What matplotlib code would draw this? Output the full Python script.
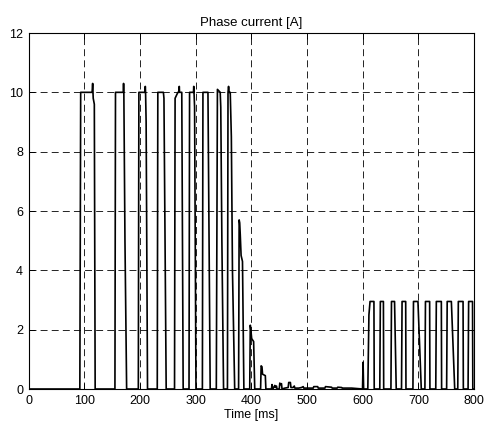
import matplotlib
matplotlib.use("Agg")
import matplotlib.pyplot as plt

plt.rcParams['font.family'] = ['Liberation Sans', 'DejaVu Sans']
plt.rcParams['lines.scale_dashes'] = False

# waveform: time [ms] and phase current [A]
time_ms = [
    0, 92, 93.5, 114, 115, 116, 118, 119.5,
    155, 156, 170, 170.5, 171, 173, 176,
    197, 198, 209, 209.5, 210, 211, 213.5,
    231, 232, 242, 243, 245, 247,
    262, 263, 268, 270, 270.5, 271, 275, 277.5,
    288, 289, 296, 296.5, 297, 298, 300.5,
    312, 313, 322, 324, 326,
    337, 339, 344, 345, 347, 350,
    357, 358, 359, 360, 362, 364, 366, 370,
    377, 378, 379, 380, 381.5, 384, 386.5,
    397, 398, 399, 400.5, 404, 406,
    416.5, 417.5, 419, 420, 425, 426,
    436, 437, 438, 440, 442, 443, 445, 446, 450, 451, 452, 454, 455,
    460, 466, 467, 470, 471, 475, 477, 478, 485, 490, 493, 494, 500,
    511, 512, 519, 520, 532, 533, 544, 545, 554, 555, 562, 563, 580,
    599.5, 600.5, 601.5,
    609, 611, 613, 620, 620.5,
    630.5, 631.5, 637, 637.5,
    650.5, 651.5, 657, 660,
    669.5, 670.5, 677, 677.5,
    690, 691, 699, 705,
    711.5, 712.5, 720, 720.5,
    731, 732, 741, 741.5,
    750.5, 751.5, 759, 765,
    770.5, 771.5, 780, 780.5,
    789, 790, 797, 797.5, 800,
]
current_a = [
    0, 0, 10, 10, 10.3, 9.8, 9.6, 0,
    0, 10, 10, 10.3, 10, 5, 0,
    0, 10, 10, 10.2, 10, 9, 0,
    0, 10, 10, 9.8, 5, 0,
    0, 9.8, 10, 10, 10.2, 10, 10, 0,
    0, 10, 10, 10.2, 10, 9.5, 0,
    0, 10, 10, 5, 0,
    0, 10.1, 10, 9.5, 5, 0,
    0, 10, 10.2, 10, 10, 8.5, 4, 0,
    0, 5.7, 5.6, 5.2, 4.5, 4.3, 0,
    0, 2.15, 2.0, 1.7, 1.6, 0,
    0, 0.78, 0.75, 0.5, 0.45, 0,
    0, 0.15, 0, 0.05, 0.12, 0.05, 0.1, 0, 0, 0.2, 0.15, 0.18, 0,
    0.03, 0.05, 0.22, 0.22, 0.05, 0.05, 0.1, 0.03, 0.03, 0.05, 0.08, 0.03, 0.03,
    0.03, 0.08, 0.08, 0.03, 0.03, 0.08, 0.06, 0.03, 0.03, 0.06, 0.05, 0.03, 0.03,
    0, 0.9, 0,
    0, 2.5, 2.95, 2.95, 0,
    0, 2.95, 2.95, 0,
    0, 2.95, 2.95, 0,
    0, 2.95, 2.95, 0,
    0, 2.95, 2.95, 0,
    0, 2.95, 2.95, 0,
    0, 2.95, 2.95, 0,
    0, 2.95, 2.95, 0,
    0, 2.95, 2.95, 0,
    0, 2.95, 2.95, 0, 0,
]

x_ticks = [0, 100, 200, 300, 400, 500, 600, 700, 800]
y_ticks = [0, 2, 4, 6, 8, 10, 12]

W, H = 489, 425
fig = plt.figure(figsize=(W / 100, H / 100), dpi=100)
ax = fig.add_axes([28.6 / W, 1 - 389 / H, (474.2 - 28.6) / W, (389 - 33) / H])

ax.plot(time_ms, current_a, color='black', linewidth=1.2, zorder=3)

ax.set_xlim(0, 800)
ax.set_ylim(0, 12)
ax.set_xticks(x_ticks)
ax.set_yticks(y_ticks)
ax.tick_params(direction='in', length=4, width=0.7, labelsize=9,
               top=True, right=True, pad=4)
ax.grid(True, color='black', linestyle=(0, (5, 3)), linewidth=0.6)
for s in ax.spines.values():
    s.set_linewidth(0.8)

ax.set_title('Phase current [A]', fontsize=9.5, pad=5)
ax.set_xlabel('Time [ms]', fontsize=9, labelpad=2)

fig.savefig('out.png', dpi=100)
